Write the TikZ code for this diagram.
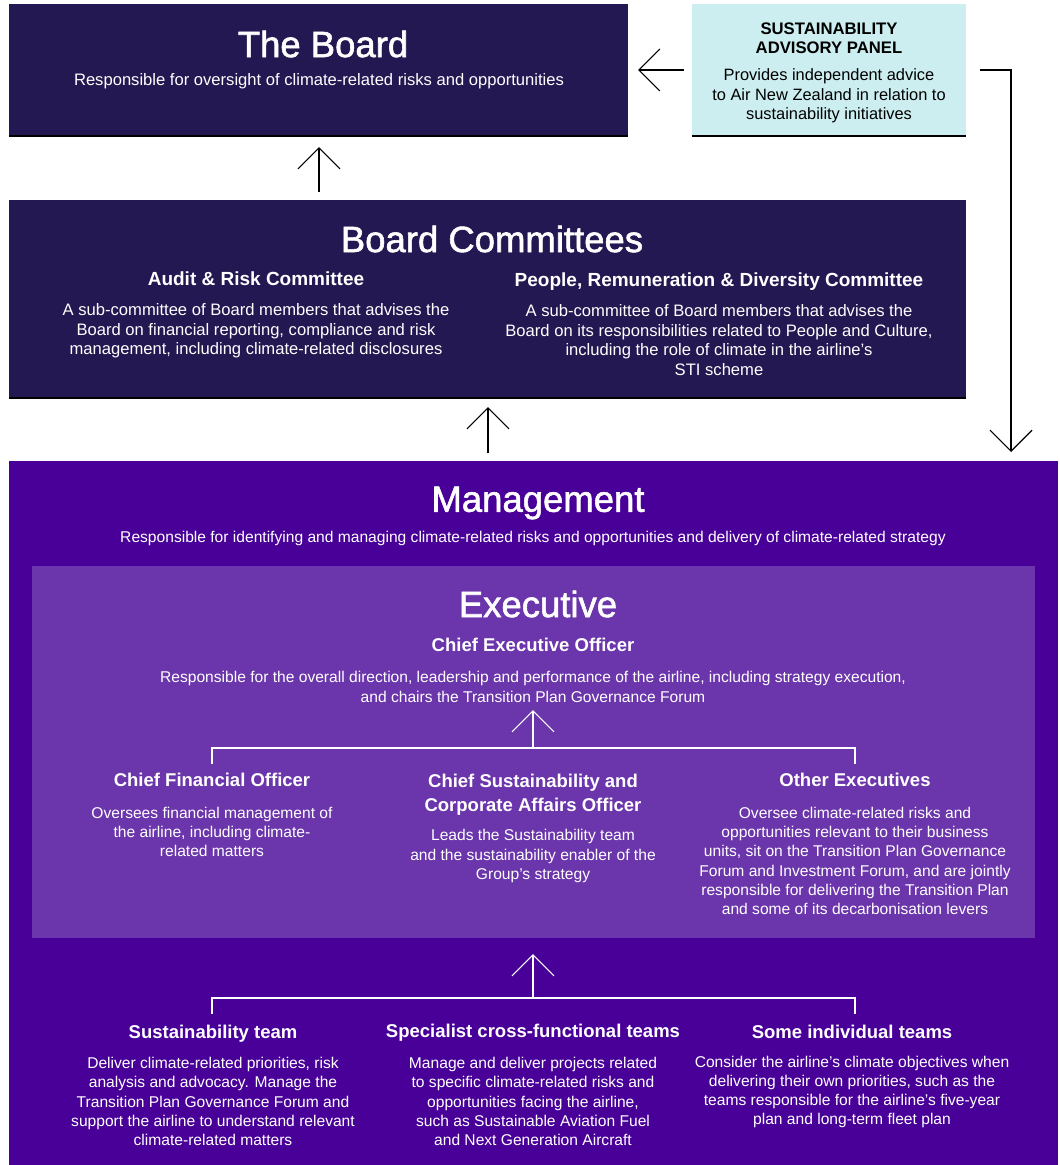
\documentclass[tikz,border=0pt]{standalone}
\usepackage{fontspec}
\setmainfont{Liberation Sans}
\newfontfamily\ttlfont[FakeBold=1.6]{Liberation Sans}
\usetikzlibrary{arrows.meta}

\definecolor{boardnavy}{HTML}{231851}
\definecolor{mgmtpurple}{HTML}{480098}
\definecolor{execpurple}{HTML}{6B35AB}
\definecolor{panelblue}{HTML}{CCEEF0}

\tikzset{
  box/.style={inner sep=0pt, outer sep=0pt},
  ttl/.style={text=white, font=\ttlfont\fontsize{36.5}{40}\selectfont, inner sep=0pt},
  head/.style={text=white, font=\fontsize{19}{24}\selectfont\bfseries, align=center, inner sep=0pt},
  body/.style={text=white, font=\fontsize{16.6}{19.5}\selectfont, align=center, inner sep=0pt},
  mhead/.style={head, font=\fontsize{18.5}{24}\selectfont\bfseries},
  mbody/.style={body, font=\fontsize{15.6}{19.3}\selectfont},
  arr/.style={draw=black, line width=1.2pt, -{Straight Barb[length=21pt,width=42pt,line width=1.2pt]}},
  warr/.style={arr, draw=white},
  wline/.style={draw=white, line width=1.5pt},
  rule/.style={draw=black, line width=2.5pt}
}

\begin{document}
\begin{tikzpicture}[x=1pt, y=-1pt]
\useasboundingbox (0,0) rectangle (1060,1165);

% boxes
\node[box, fill=boardnavy, minimum width=619pt, minimum height=132pt] (board) at (318.5,70) {};
\node[box, fill=panelblue, minimum width=274pt, minimum height=132pt] (panel) at (829,70) {};
\node[box, fill=boardnavy, minimum width=957pt, minimum height=198pt] (cttees) at (487.5,299) {};
\node[box, fill=mgmtpurple, minimum width=1049pt, minimum height=704pt] (mgmt) at (533.5,813) {};
\node[box, fill=execpurple, minimum width=1003pt, minimum height=372pt] (exec) at (533.5,752) {};
\draw[rule] (board.south west) -- (board.south east);
\draw[rule] (panel.south west) -- (panel.south east);
\draw[rule] (cttees.south west) -- (cttees.south east);

% the board
\node[ttl] (boardttl) at (323,44) {The Board};
\node[body] (boardtxt) at (319,81) {Responsible for oversight of climate-related risks and opportunities};

% advisory panel
\node[head, text=black, font=\fontsize{16.7}{19}\selectfont\bfseries] (panelttl) at (829,38.5) {SUSTAINABILITY\\ADVISORY PANEL};
\node[body, text=black, font=\fontsize{16.4}{19.5}\selectfont] (paneltxt) at (829,96) {Provides independent advice\\to Air New Zealand in relation to\\sustainability initiatives};

% board committees
\node[ttl] (ctteesttl) at (492,239) {Board Committees};
\node[head] (audit) at (256,279) {Audit \& Risk Committee};
\node[body] (audittxt) at (256,331) {A sub-committee of Board members that advises the\\Board on financial reporting, compliance and risk\\management, including climate-related disclosures};
\node[head] (people) at (719,281.5) {People, Remuneration \& Diversity Committee};
\node[body] (peopletxt) at (719,340) {A sub-committee of Board members that advises the\\Board on its responsibilities related to People and Culture,\\including the role of climate in the airline’s\\STI scheme};

% management
\node[ttl] (mgmtttl) at (538,503) {Management};
\node[mbody] (mgmttxt) at (533,538) {Responsible for identifying and managing climate-related risks and opportunities and delivery of climate-related strategy};

% executive
\node[ttl] (execttl) at (538,604) {Executive};
\node[mhead] (ceo) at (533,645) {Chief Executive Officer};
\node[mbody] (ceotxt) at (533,687) {Responsible for the overall direction, leadership and performance of the airline, including strategy execution,\\and chairs the Transition Plan Governance Forum};

\node[mhead] (cfo) at (212,780) {Chief Financial Officer};
\node[mbody] (cfotxt) at (212,832) {Oversees financial management of\\the airline, including climate-\\related matters};
\node[mhead] (csco) at (533,795) {Chief Sustainability and\\Corporate Affairs Officer};
\node[mbody] (cscotxt) at (533,856) {Leads the Sustainability team\\and the sustainability enabler of the\\Group’s strategy};
\node[mhead] (oth) at (855,780) {Other Executives};
\node[mbody] (othtxt) at (855,861) {Oversee climate-related risks and\\opportunities relevant to their business\\units, sit on the Transition Plan Governance\\Forum and Investment Forum, and are jointly\\responsible for delivering the Transition Plan\\and some of its decarbonisation levers};

% teams
\node[mhead] (sust) at (213,1034) {Sustainability team};
\node[mhead] (spec) at (533,1033) {Specialist cross-functional teams};
\node[mhead] (indiv) at (852,1032) {Some individual teams};
\node[mbody] (susttxt) at (213,1101.5) {Deliver climate-related priorities, risk\\analysis and advocacy. Manage the\\Transition Plan Governance Forum and\\support the airline to understand relevant\\climate-related matters};
\node[mbody] (spectxt) at (533,1101.5) {Manage and deliver projects related\\to specific climate-related risks and\\opportunities facing the airline,\\such as Sustainable Aviation Fuel\\and Next Generation Aircraft};
\node[mbody] (indivtxt) at (852,1092) {Consider the airline’s climate objectives when\\delivering their own priorities, such as the\\teams responsible for the airline’s five-year\\plan and long-term fleet plan};

% arrows between the boxes
\coordinate (a1) at (319,0);
\coordinate (a2) at (488,0);
\coordinate (rtip) at (1011,452);
\draw[arr, shorten <=8pt, shorten >=11pt] (cttees.north -| a1) -- (board.south -| a1);
\draw[arr, shorten <=8pt, shorten >=9pt] (mgmt.north -| a2) -- (cttees.south -| a2);
\draw[arr, shorten <=8pt, shorten >=10pt] (panel.west) -- (panel.west -| board.east);
\draw[arr] ([xshift=14pt]panel.east) -| (rtip);

% white brackets
\coordinate (j1) at (533,748);
\coordinate (j1tip) at (533,710);
\coordinate (d1) at (212,764);
\coordinate (d3) at (855,764);
\draw[wline] (d1) |- (j1) -| (d3);
\draw[warr] (j1) -- (j1tip);
\coordinate (j2) at (533,998);
\coordinate (j2tip) at (533,954);
\coordinate (e1) at (212,1014);
\coordinate (e3) at (855,1014);
\draw[wline] (e1) |- (j2) -| (e3);
\draw[warr] (j2) -- (j2tip);
\end{tikzpicture}
\end{document}
